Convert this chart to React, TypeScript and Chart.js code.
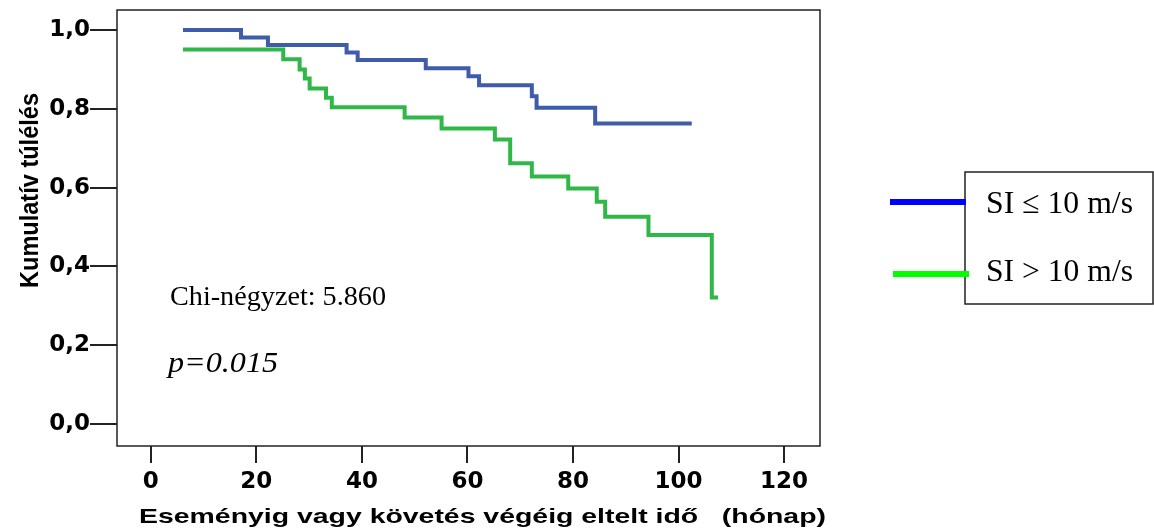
import React, { useEffect, useRef } from 'react';
import { Chart, registerables } from 'chart.js';

Chart.register(...registerables);

// ---- data ----
const blueTimes = [6.1, 17.1, 22.2, 37.1, 39.2, 52.1, 60.2, 62.2, 72.2, 73.1, 84.2, 102.5];
const blueSurvival = [1.0, 0.981, 0.962, 0.943, 0.924, 0.903, 0.883, 0.86, 0.832, 0.803, 0.763, 0.763];

const greenTimes = [6.1, 25.1, 28.2, 29.2, 30.1, 33.2, 34.3, 48.1, 55.1, 65.2, 68.1, 72.2, 79.1, 84.5, 86.1, 94.3, 106.3, 107.5];
const greenSurvival = [0.951, 0.926, 0.9, 0.877, 0.852, 0.828, 0.804, 0.778, 0.75, 0.722, 0.662, 0.628, 0.598, 0.564, 0.526, 0.48, 0.321, 0.321];

const xTickValues = [0, 20, 40, 60, 80, 100, 120];
const yTickValues = [0, 0.2, 0.4, 0.6, 0.8, 1.0];

const seriesLabels = ['SI \u2264 10 m/s', 'SI > 10 m/s'];
const lineColors = ['#3F5CAB', '#2FB848'];
const legendColors = ['#0000FF', '#00FF00'];

const yAxisTitle = 'Kumulatív túlélés';
const xAxisTitle = 'Eseményig vagy követés végéig eltelt idő   (hónap)';
const chiText = 'Chi-négyzet: 5.860';
const pText = 'p=0.015';

function drawText(
  ctx: CanvasRenderingContext2D,
  text: string,
  x: number,
  y: number,
  font: string,
  width?: number,
  align: 'left' | 'center' = 'left',
  rotation = 0
) {
  ctx.save();
  ctx.font = font;
  ctx.textAlign = 'left';
  ctx.textBaseline = 'alphabetic';
  const w = ctx.measureText(text).width;
  const sx = width ? width / w : 1;
  ctx.translate(x, y);
  if (rotation) ctx.rotate(rotation);
  ctx.scale(sx, 1);
  ctx.fillStyle = '#000';
  ctx.fillText(text, align === 'center' ? -w / 2 : 0, 0);
  ctx.restore();
}

const overlayPlugin = {
  id: 'overlay',
  afterDraw(chart: any) {
    const ctx: CanvasRenderingContext2D = chart.ctx;
    const a = chart.chartArea;
    ctx.save();
    // plot frame
    ctx.strokeStyle = '#222';
    ctx.lineWidth = 1.5;
    ctx.strokeRect(a.left, a.top, a.right - a.left, a.bottom - a.top);

    // axis titles
    drawText(ctx, yAxisTitle, 38, 190.5, 'bold 25px "Liberation Sans", Arial, sans-serif', 195, 'center', -Math.PI / 2);
    drawText(ctx, xAxisTitle, 139, 523, 'bold 20.5px "Liberation Sans", Arial, sans-serif', 687);

    // annotations
    drawText(ctx, chiText, 170, 305, '28px "Liberation Serif", "Times New Roman", serif', 216);
    drawText(ctx, pText, 168, 372, 'italic 29px "Liberation Serif", "Times New Roman", serif', 110);

    // legend
    ctx.strokeStyle = '#222';
    ctx.lineWidth = 1.5;
    ctx.strokeRect(965, 172, 188, 132);
    ctx.lineWidth = 6;
    ctx.strokeStyle = legendColors[0];
    ctx.beginPath();
    ctx.moveTo(890, 202);
    ctx.lineTo(966, 202);
    ctx.stroke();
    ctx.strokeStyle = legendColors[1];
    ctx.beginPath();
    ctx.moveTo(893, 274);
    ctx.lineTo(969, 274);
    ctx.stroke();
    drawText(ctx, seriesLabels[0], 986, 213, '32px "Liberation Serif", "Times New Roman", serif', 147);
    drawText(ctx, seriesLabels[1], 986, 281, '32px "Liberation Serif", "Times New Roman", serif', 147);
    ctx.restore();
  },
};

export default function App() {
  const canvasRef = useRef<HTMLCanvasElement | null>(null);

  useEffect(() => {
    const canvas = canvasRef.current;
    if (!canvas) return;
    const tickFont = { family: '"DejaVu Sans", sans-serif', weight: 'bold' as const, size: 23 };
    const chart = new Chart(canvas, {
      type: 'line',
      data: {
        datasets: [
          {
            label: seriesLabels[0],
            data: blueTimes.map((t, i) => ({ x: t, y: blueSurvival[i] })),
            borderColor: lineColors[0],
            borderWidth: 4,
            stepped: true,
            pointRadius: 0,
            fill: false,
          },
          {
            label: seriesLabels[1],
            data: greenTimes.map((t, i) => ({ x: t, y: greenSurvival[i] })),
            borderColor: lineColors[1],
            borderWidth: 4,
            stepped: true,
            pointRadius: 0,
            fill: false,
          },
        ],
      },
      options: {
        animation: false,
        responsive: false,
        layout: { padding: { top: 10, right: 334, left: 0, bottom: 0 } },
        plugins: { legend: { display: false }, tooltip: { enabled: false } },
        scales: {
          x: {
            type: 'linear',
            min: -6.4,
            max: 126.8,
            afterBuildTicks: (s: any) => {
              s.ticks = xTickValues.map((v) => ({ value: v }));
            },
            afterFit: (s: any) => {
              s.height = 85;
              s.paddingLeft = 0;
              s.paddingRight = 0;
            },
            grid: { drawOnChartArea: false, drawTicks: true, tickLength: 17, color: '#222', lineWidth: 2 },
            border: { display: false },
            ticks: { font: tickFont, color: '#000', padding: 5, maxRotation: 0, autoSkip: false },
          },
          y: {
            type: 'linear',
            min: -0.056,
            max: 1.051,
            afterBuildTicks: (s: any) => {
              s.ticks = yTickValues.map((v) => ({ value: v }));
            },
            afterFit: (s: any) => {
              s.width = 117;
              s.paddingTop = 0;
              s.paddingBottom = 0;
            },
            grid: { drawOnChartArea: false, drawTicks: true, tickLength: 27, color: '#222', lineWidth: 2 },
            border: { display: false },
            ticks: {
              font: tickFont,
              color: '#000',
              padding: 0,
              autoSkip: false,
              callback: (v: any) => Number(v).toFixed(1).replace('.', ','),
            },
          },
        },
      },
      plugins: [overlayPlugin],
    });
    return () => chart.destroy();
  }, []);

  return (
    <div style={{ position: 'fixed', left: 0, top: 0, width: 1154, height: 531, background: '#fff' }}>
      <canvas ref={canvasRef} width={1154} height={531} style={{ display: 'block' }} />
    </div>
  );
}
